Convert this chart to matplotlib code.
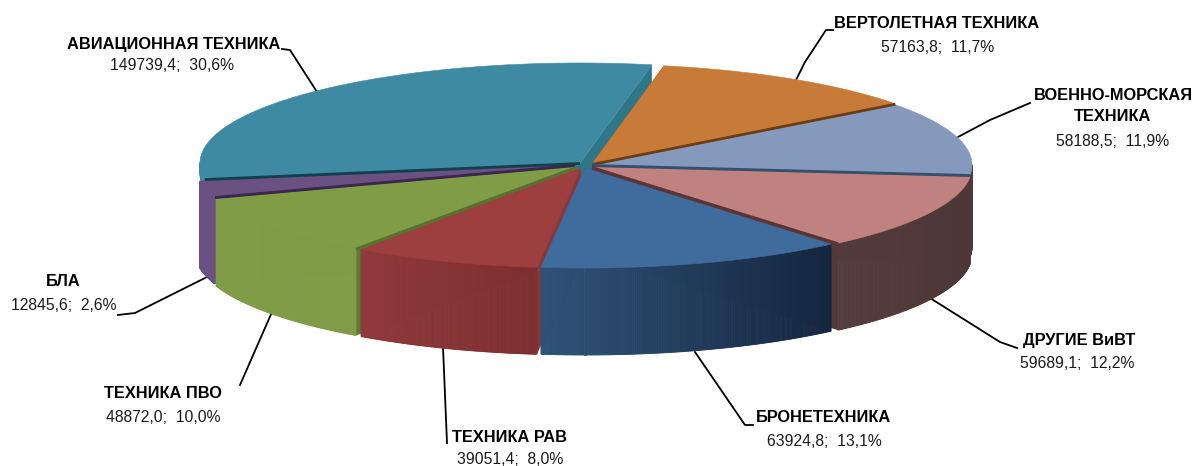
#!/usr/bin/env python3
# -*- coding: utf-8 -*-
"""3D pie: distribution by equipment type"""
import numpy as np
import matplotlib
matplotlib.use('Agg')
import matplotlib.pyplot as plt
from matplotlib.colors import to_rgb

plt.rcParams['font.family'] = ['Liberation Sans', 'DejaVu Sans']

# Data, clockwise starting with the helicopter slice
names = ['ВЕРТОЛЕТНАЯ ТЕХНИКА', 'ВОЕННО-МОРСКАЯ\nТЕХНИКА', 'ДРУГИЕ ВиВТ', 'БРОНЕТЕХНИКА',
         'ТЕХНИКА РАВ', 'ТЕХНИКА ПВО', 'БЛА', 'АВИАЦИОННАЯ ТЕХНИКА']
values = [57163.8, 58188.5, 59689.1, 63924.8, 39051.4, 48872.0, 12845.6, 149739.4]
percents = [11.7, 11.9, 12.2, 13.1, 8.0, 10.0, 2.6, 30.6]

# Pie geometry in pixels
RX, RY, DEPTH = 380, 100, 87
START = 10.9
apex = [(592, 164), (592, 165), (592, 167), (585, 168),
        (581, 168), (576, 167), (575, 165), (580, 163)]
wall_depth = [DEPTH, 82, DEPTH, DEPTH, DEPTH, DEPTH, DEPTH, 10]

top_col = ['#C87A38', '#8599BD', '#C08280', '#406B9D', '#9D3F3E', '#809C47', '#6B5082', '#3F8AA3']
wall_l = ['#C87A38', '#533A3A', '#553B3B', '#2F5278', '#90393A', '#809C47', '#6B5082', '#3F8AA3']
wall_r = ['#C87A38', '#533A3A', '#4E3738', '#14263F', '#7D2E30', '#809C47', '#6B5082', '#3F8AA3']
cut_col = ['#6B3D12', '#3A4F6E', '#533A3A', '#2F5278', '#85393A', '#5C7A31', '#3B2650', '#2F7788']
# dark seam between neighbours, and which edge of the slice it runs along
line_col = ['#6B3D12', '#34506F', '#5C3430', None, None, '#56722E', '#3B2650', '#123F4E']
line_edge = [1, 1, 1, 1, 0, 0, 0, 0]

# painter order, back to front
order = [7, 0, 1, 2, 6, 5, 4, 3]

# label centers and leader lines
title_pos = [(937, 24), (1113, 106), (1079, 341), (824, 418), (510, 438), (163, 394), (63, 281), (174, 44)]
value_pos = [(938, 47), (1113, 141), (1077, 364), (824, 442), (510, 459), (163, 417), (64, 306), (172, 66)]
leaders = [
    ([796, 805, 826, 833], [80, 62, 30, 30]),
    ([958, 990, 1030], [137, 120, 103]),
    ([930, 1000, 1017], [298, 342, 348]),
    ([695, 745, 753], [352, 425, 425]),
    ([443, 447], [347, 443]),
    ([272, 240], [312, 385]),
    ([207, 135, 118], [277, 313, 315]),
    ([282, 290, 317], [49, 50, 92]),
]

edges = START + np.cumsum([0] + list(values)) / sum(values) * 360


def rim(i, t):
    """Point on the rim of slice i at clockwise angle t (degrees from top)"""
    t = np.radians(t)
    return apex[i][0] + RX * np.sin(t), apex[i][1] - RY * np.cos(t)


def draw_slice(ax, i):
    t0, t1 = edges[i], edges[i + 1]
    ts = np.linspace(t0, t1, 160)
    x, y = rim(i, ts)
    ax_, ay_ = apex[i]
    sx, sy = rim(i, t0)
    ex, ey = rim(i, t1)

    # cut faces go first, the wall and the top hide what should not show
    for fx, fy in [(sx, sy), (ex, ey)]:
        ax.fill([ax_, fx, fx, ax_], [ay_, fy, fy + DEPTH, ay_ + DEPTH], color=cut_col[i], lw=0)

    # outer wall, only the front half shows
    c0, c1 = np.array(to_rgb(wall_l[i])), np.array(to_rgb(wall_r[i]))
    xmin, xmax = x.min(), x.max()
    d = wall_depth[i]
    for k in range(len(ts) - 1):
        if not (90 < ts[k] < 270 or 90 < ts[k + 1] < 270):
            continue
        f = (x[k] - xmin) / max(xmax - xmin, 1)
        col = c0 + (c1 - c0) * f
        ax.fill([x[k], x[k + 1], x[k + 1], x[k]],
                [y[k], y[k + 1], y[k + 1] + d, y[k] + d],
                color=col, lw=0.6)

    # top
    ax.fill(np.r_[ax_, x], np.r_[ay_, y], color=top_col[i], lw=0.4)
    if line_col[i]:
        lx, ly = (ex, ey) if line_edge[i] else (sx, sy)
        ax.plot([ax_, lx], [ay_ + 0.5, ly + 0.5], color=line_col[i], lw=2.0, solid_capstyle='butt')


fig = plt.figure(figsize=(11.95, 4.66), dpi=100)
ax = fig.add_axes([0, 0, 1, 1])
ax.set_xlim(0, 1195)
ax.set_ylim(466, 0)
ax.axis('off')

for i in order:
    draw_slice(ax, i)

for i in range(len(names)):
    ax.plot(leaders[i][0], leaders[i][1], color='black', lw=1.3, zorder=0.5)
    ax.text(title_pos[i][0], title_pos[i][1], names[i], ha='center', va='center',
            fontsize=11.8, fontweight='bold', color='black', linespacing=1.55)
    label = f'{values[i]:.1f};  {percents[i]:.1f}%'.replace('.', ',')
    ax.text(value_pos[i][0], value_pos[i][1], label, ha='center', va='center',
            fontsize=11.3, color='#1a1a1a')

plt.savefig('out.png', dpi=100)
